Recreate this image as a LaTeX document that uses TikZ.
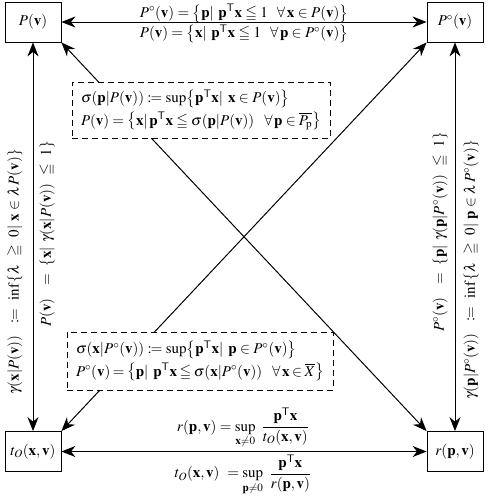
\documentclass[tikz,border=0pt]{standalone}
\usepackage{amsmath}
\usepackage{mathptmx}
\usepackage{amssymb}
\usepackage{mathtools}
\usetikzlibrary{arrows.meta}
\tikzset{
  cbox/.style={draw, line width=0.8pt, minimum width=56pt, minimum height=40pt, inner sep=0pt},
  arr/.style={line width=1pt, {Stealth[length=14pt,width=11pt,inset=4.5pt]}-{Stealth[length=14pt,width=11pt,inset=4.5pt]}},
  dbox/.style={draw, dash pattern=on 6pt off 4pt, line width=0.8pt, fill=white, align=left, inner xsep=9pt, inner ysep=0pt, anchor=center},
  lbl/.style={inner sep=0pt},
}
\newcommand{\bv}{\mathbf{v}}
\newcommand{\bx}{\mathbf{x}}
\newcommand{\bp}{\mathbf{p}}
\newcommand{\tT}{^{\mathsf{T}}}
\begin{document}
\begin{tikzpicture}[x=1pt,y=-1pt, font=\fontsize{15}{18}\selectfont]
\useasboundingbox (0,0) rectangle (488,496);
\node[cbox] (pv) at (33,22) {$P(\bv)$};
\node[cbox] (pc) at (455,22) {$P^{\circ}(\bv)$};
\node[cbox] (to) at (33,451.5) {$t_{O}(\bx,\bv)$};
\node[cbox] (rp) at (455,451.5) {$r(\bp,\bv)$};

\draw[arr] (pv.east) -- (pc.west);
\draw[arr] (to.east) -- (rp.west);
\draw[arr] (pv.south) -- (to.north);
\draw[arr] (pc.south) -- (rp.north);
\draw[arr] (pv.south east) -- (rp.north west);
\draw[arr] (to.north east) -- (pc.south west);

\node[lbl] (t1) at (244,13.5) {$P^{\circ}(\bv)=\bigl\{\bp|\ \bp\tT\bx\leqq 1\ \ \forall\,\bx\in P(\bv)\bigr\}$};
\node[lbl] (t2) at (244,34) {$P(\bv)=\bigl\{\bx|\ \bp\tT\bx\leqq 1\ \ \forall\,\bp\in P^{\circ}(\bv)\bigr\}$};

\node[lbl] (b1) at (243,428) {$\displaystyle r(\bp,\bv)=\sup\limits_{\bx\neq0}\ \frac{\bp\tT\bx}{t_{O}(\bx,\bv)}$};
\node[lbl] (b2) at (243,475) {$\displaystyle t_{O}(\bx,\bv)\ =\sup\limits_{\bp\neq0}\ \frac{\bp\tT\bx}{r(\bp,\bv)}$};

\node[lbl, rotate=90] (l1) at (15,272) {$\gamma(\bx|P(\bv))\ \ \coloneqq\ \inf\,\{\lambda\ \geqq\ 0|\ \bx\in\lambda\, P(\bv)\}$};
\node[lbl, rotate=90] (l2) at (47,234) {$P(\bv)\ \ =\ \{\bx|\ \gamma(\bx|P(\bv))\ \leqq\ 1\}$};
\node[lbl, rotate=90] (r1) at (440,232) {$P^{\circ}(\bv)\ \ =\ \{\bp|\ \gamma(\bp|P^{\circ}(\bv))\ \leqq\ 1\}$};
\node[lbl, rotate=90] (r2) at (471,270) {$\gamma(\bp|P^{\circ}(\bv))\ \ \coloneqq\ \inf\,\{\lambda\ \geqq\ 0|\ \bp\in\lambda\, P^{\circ}(\bv)\}$};

\node[dbox, minimum width=258pt, minimum height=56pt, text width=240pt] (d1) at (201,110)
 {$\sigma(\bp|P(\bv))\coloneqq\sup\bigl\{\bp\tT\bx|\ \bx\in P(\bv)\bigr\}$\\[3pt]
  $P(\bv)=\bigl\{\bx|\,\bp\tT\bx\leqq\sigma(\bp|P(\bv))\ \ \forall\,\bp\in\overline{P_{\mathrm{p}}}\bigr\}$};
\node[dbox, minimum width=266pt, minimum height=58pt, text width=248pt] (d2) at (200,361)
 {$\sigma(\bx|P^{\circ}(\bv))\coloneqq\sup\bigl\{\bp\tT\bx|\ \bp\in P^{\circ}(\bv)\bigr\}$\\[3pt]
  $P^{\circ}(\bv)=\bigl\{\bp|\ \bp\tT\bx\leqq\sigma(\bx|P^{\circ}(\bv))\ \ \forall\,\bx\in\overline{X}\bigr\}$};
\end{tikzpicture}
\end{document}
